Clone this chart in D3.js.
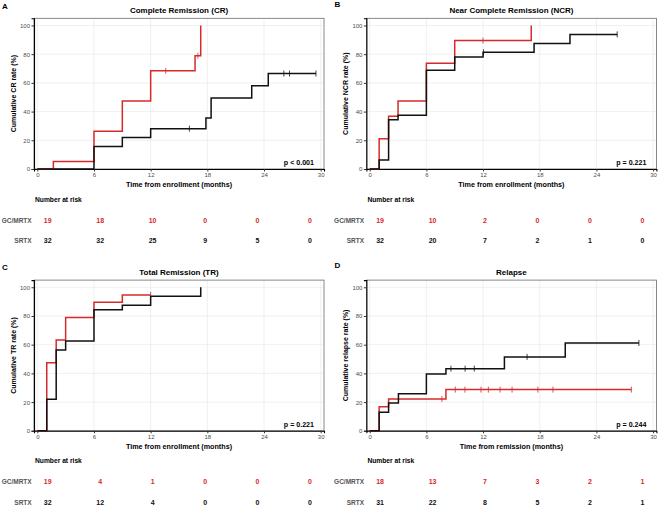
<!DOCTYPE html>
<html>
<head>
<meta charset="utf-8">
<script src="https://cdn.jsdelivr.net/npm/d3@7"></script>
<style>
  body { margin: 0; background: #fff; }
  svg { display: block; font-family: "Liberation Sans", Arial, sans-serif; }
</style>
</head>
<body>
<svg id="chart" width="658" height="506"></svg>
<script>
const RED = "#d62a2a";
const BLACK = "#111111";

const letters = ["A", "B", "C", "D"];
const titles = ["Complete Remission (CR)", "Near Complete Remission (NCR)", "Total Remission (TR)", "Relapse"];
const yTitles = ["Cumulative CR rate (%)", "Cumulative NCR rate (%)", "Cumulative TR rate (%)", "Cumulative relapse rate (%)"];
const xTitles = ["Time from enrollment (months)", "Time from enrollment (months)", "Time from enrollment (months)", "Time from remission (months)"];
const pValues = ["p < 0.001", "p = 0.221", "p = 0.221", "p = 0.244"];
const xTicks = [0, 6, 12, 18, 24, 30];
const yTicks = [0, 20, 40, 60, 80, 100];
const riskTimes = [0, 6, 12, 18, 24, 30];
const groupNames = ["GC/MRTX", "SRTX"];

// number at risk
const riskGC = [[19, 18, 10, 0, 0, 0], [19, 10, 2, 0, 0, 0], [19, 4, 1, 0, 0, 0], [18, 13, 7, 3, 2, 1]];
const riskSR = [[32, 32, 25, 9, 5, 0], [32, 20, 7, 2, 1, 0], [32, 12, 4, 0, 0, 0], [31, 22, 8, 5, 2, 1]];

// CR
const crRedTimes = [1.7, 6, 9, 12, 16.7, 17.3];
const crRedValues = [5.3, 26.3, 47.4, 68.4, 78.9, 100];
const crRedCensor = [13.6, 17.0];
const crRedEnd = 17.3;
const crBlackTimes = [6, 9, 12, 17.85, 18.4, 22.7, 24.45];
const crBlackValues = [15.6, 21.9, 28.1, 35.5, 49.5, 58.0, 66.5];
const crBlackCensor = [16.1, 26.1, 26.7, 29.5];
const crBlackEnd = 29.5;

// NCR
const ncrRedTimes = [1, 2, 3, 6, 9, 17.1];
const ncrRedValues = [21.1, 36.8, 47.4, 73.7, 89.5, 100];
const ncrRedCensor = [12];
const ncrRedEnd = 17.1;
const ncrBlackTimes = [1, 2, 3, 6, 9, 12, 17.4, 21.2];
const ncrBlackValues = [6.3, 34.4, 37.5, 68.8, 78.1, 81.3, 87.5, 93.8];
const ncrBlackCensor = [12.05, 26.2];
const ncrBlackEnd = 26.2;

// TR
const trRedTimes = [1, 2, 3, 6, 9];
const trRedValues = [47.4, 63.2, 78.9, 89.5, 94.7];
const trRedCensor = [12];
const trRedEnd = 12;
const trBlackTimes = [1, 2, 3, 6, 9, 12, 17.3];
const trBlackValues = [21.9, 56.3, 62.5, 84.4, 87.5, 93.8, 100];
const trBlackCensor = [];
const trBlackEnd = 17.3;

// Relapse
const relRedTimes = [1, 2, 8.07];
const relRedValues = [16.7, 22.2, 28.7];
const relRedCensor = [7.64, 9.06, 10.08, 11.78, 12.56, 13.8, 15.07, 17.8, 19.4, 27.7];
const relRedEnd = 27.7;
const relBlackTimes = [1, 2, 3.04, 6, 8.07, 14.26, 20.7];
const relBlackValues = [12.9, 19.4, 25.8, 39.5, 43.3, 51.5, 61.2];
const relBlackCensor = [8.6, 10.1, 11.07, 16.66, 28.5];
const relBlackEnd = 28.5;

const series = [
  [{ times: crRedTimes, values: crRedValues, censor: crRedCensor, end: crRedEnd, color: RED },
   { times: crBlackTimes, values: crBlackValues, censor: crBlackCensor, end: crBlackEnd, color: BLACK }],
  [{ times: ncrRedTimes, values: ncrRedValues, censor: ncrRedCensor, end: ncrRedEnd, color: RED },
   { times: ncrBlackTimes, values: ncrBlackValues, censor: ncrBlackCensor, end: ncrBlackEnd, color: BLACK }],
  [{ times: trRedTimes, values: trRedValues, censor: trRedCensor, end: trRedEnd, color: RED },
   { times: trBlackTimes, values: trBlackValues, censor: trBlackCensor, end: trBlackEnd, color: BLACK }],
  [{ times: relRedTimes, values: relRedValues, censor: relRedCensor, end: relRedEnd, color: RED },
   { times: relBlackTimes, values: relBlackValues, censor: relBlackCensor, end: relBlackEnd, color: BLACK }],
];

const svg = d3.select("#chart");
const offsets = [[0, 0], [332.4, 0], [0, 261.8], [332.4, 261.8]];
const letterY = [8.5, 6.5, 8.5, 6.5];

const x = d3.scaleLinear().domain([-0.35, 30.35]).range([34, 324]);
const y = d3.scaleLinear().domain([0, 105]).range([169, 18.3]);
const xRisk = d3.scaleLinear().domain([0, 30]).range([47.7, 310]);

const stepValue = (s, t) => {
  let v = 0;
  s.times.forEach((tt, i) => { if (tt <= t) v = s.values[i]; });
  return v;
};

const line = d3.line().x((d) => x(d[0])).y((d) => y(d[1])).curve(d3.curveStepAfter);

letters.forEach((letter, i) => {
  const g = svg.append("g").attr("transform", `translate(${offsets[i][0]},${offsets[i][1]})`);

  g.append("text").attr("x", 2).attr("y", letterY[i])
    .attr("font-size", 8).attr("font-weight", "bold").text(letter);

  g.append("text").attr("x", (x.range()[0] + x.range()[1]) / 2).attr("y", 12.8)
    .attr("text-anchor", "middle").attr("font-size", 8).attr("font-weight", "bold").text(titles[i]);

  // grid
  g.append("g").selectAll("line").data(xTicks).join("line")
    .attr("x1", (d) => x(d)).attr("x2", (d) => x(d))
    .attr("y1", y.range()[1]).attr("y2", y.range()[0])
    .attr("stroke", "#e6e6e6").attr("stroke-width", 0.6);
  g.append("g").selectAll("line").data(yTicks).join("line")
    .attr("x1", x.range()[0]).attr("x2", x.range()[1])
    .attr("y1", (d) => y(d)).attr("y2", (d) => y(d))
    .attr("stroke", "#e6e6e6").attr("stroke-width", 0.6);

  g.append("rect")
    .attr("x", x.range()[0]).attr("y", y.range()[1])
    .attr("width", x.range()[1] - x.range()[0]).attr("height", y.range()[0] - y.range()[1])
    .attr("fill", "none").attr("stroke", "#6b6b6b").attr("stroke-width", 0.8);

  // axes
  const xAxis = g.append("g").attr("transform", `translate(0,${y.range()[0]})`)
    .call(d3.axisBottom(x).tickValues(xTicks).tickSize(2.5).tickPadding(1.5));
  const yAxis = g.append("g").attr("transform", `translate(${x.range()[0]},0)`)
    .call(d3.axisLeft(y).tickValues(yTicks).tickSize(2.5).tickPadding(1.5));
  [xAxis, yAxis].forEach((a) => {
    a.select(".domain").attr("stroke", "#000").attr("stroke-width", 1.1);
    a.selectAll(".tick line").attr("stroke", "#333");
    a.selectAll(".tick text").attr("fill", "#4d4d4d").attr("font-size", 6)
      .attr("font-family", "Liberation Sans, Arial, sans-serif");
  });

  // curves
  series[i].forEach((s) => {
    const pts = [[0, 0]].concat(s.times.map((t, k) => [t, s.values[k]]));
    pts.push([s.end, stepValue(s, s.end)]);
    g.append("path").datum(pts).attr("d", line)
      .attr("fill", "none").attr("stroke", s.color).attr("stroke-width", 1.5);
    g.append("g").selectAll("line").data(s.censor).join("line")
      .attr("x1", (d) => x(d)).attr("x2", (d) => x(d))
      .attr("y1", (d) => y(stepValue(s, d)) - 3).attr("y2", (d) => y(stepValue(s, d)) + 3)
      .attr("stroke", s.color).attr("stroke-width", 0.8);
  });

  g.append("text").attr("x", 314).attr("y", y.range()[0] - 3.7)
    .attr("text-anchor", "end").attr("font-size", 7.1).attr("font-weight", "bold").text(pValues[i]);

  g.append("text").attr("transform", `translate(15.8,${(y.range()[0] + y.range()[1]) / 2}) rotate(-90)`)
    .attr("text-anchor", "middle").attr("font-size", 7).attr("font-weight", "bold").text(yTitles[i]);

  g.append("text").attr("x", (x.range()[0] + x.range()[1]) / 2).attr("y", y.range()[0] + 18)
    .attr("text-anchor", "middle").attr("font-size", 7.2).attr("font-weight", "bold").text(xTitles[i]);

  // risk table
  g.append("text").attr("x", 35).attr("y", y.range()[0] + 32.5)
    .attr("font-size", 6.7).attr("font-weight", "bold").text("Number at risk");

  [riskGC[i], riskSR[i]].forEach((row, r) => {
    const ry = y.range()[0] + (r === 0 ? 53.5 : 74.3);
    g.append("text").attr("x", 31.7).attr("y", ry).attr("text-anchor", "end")
      .attr("font-size", 6.5).attr("font-weight", "bold").attr("fill", "#555").text(groupNames[r]);
    g.append("g").selectAll("text").data(row).join("text")
      .attr("x", (d, k) => xRisk(riskTimes[k])).attr("y", ry)
      .attr("text-anchor", "middle").attr("font-size", 7).attr("font-weight", "bold")
      .attr("fill", r === 0 ? RED : BLACK).text((d) => d);
  });
});
</script>
</body>
</html>
